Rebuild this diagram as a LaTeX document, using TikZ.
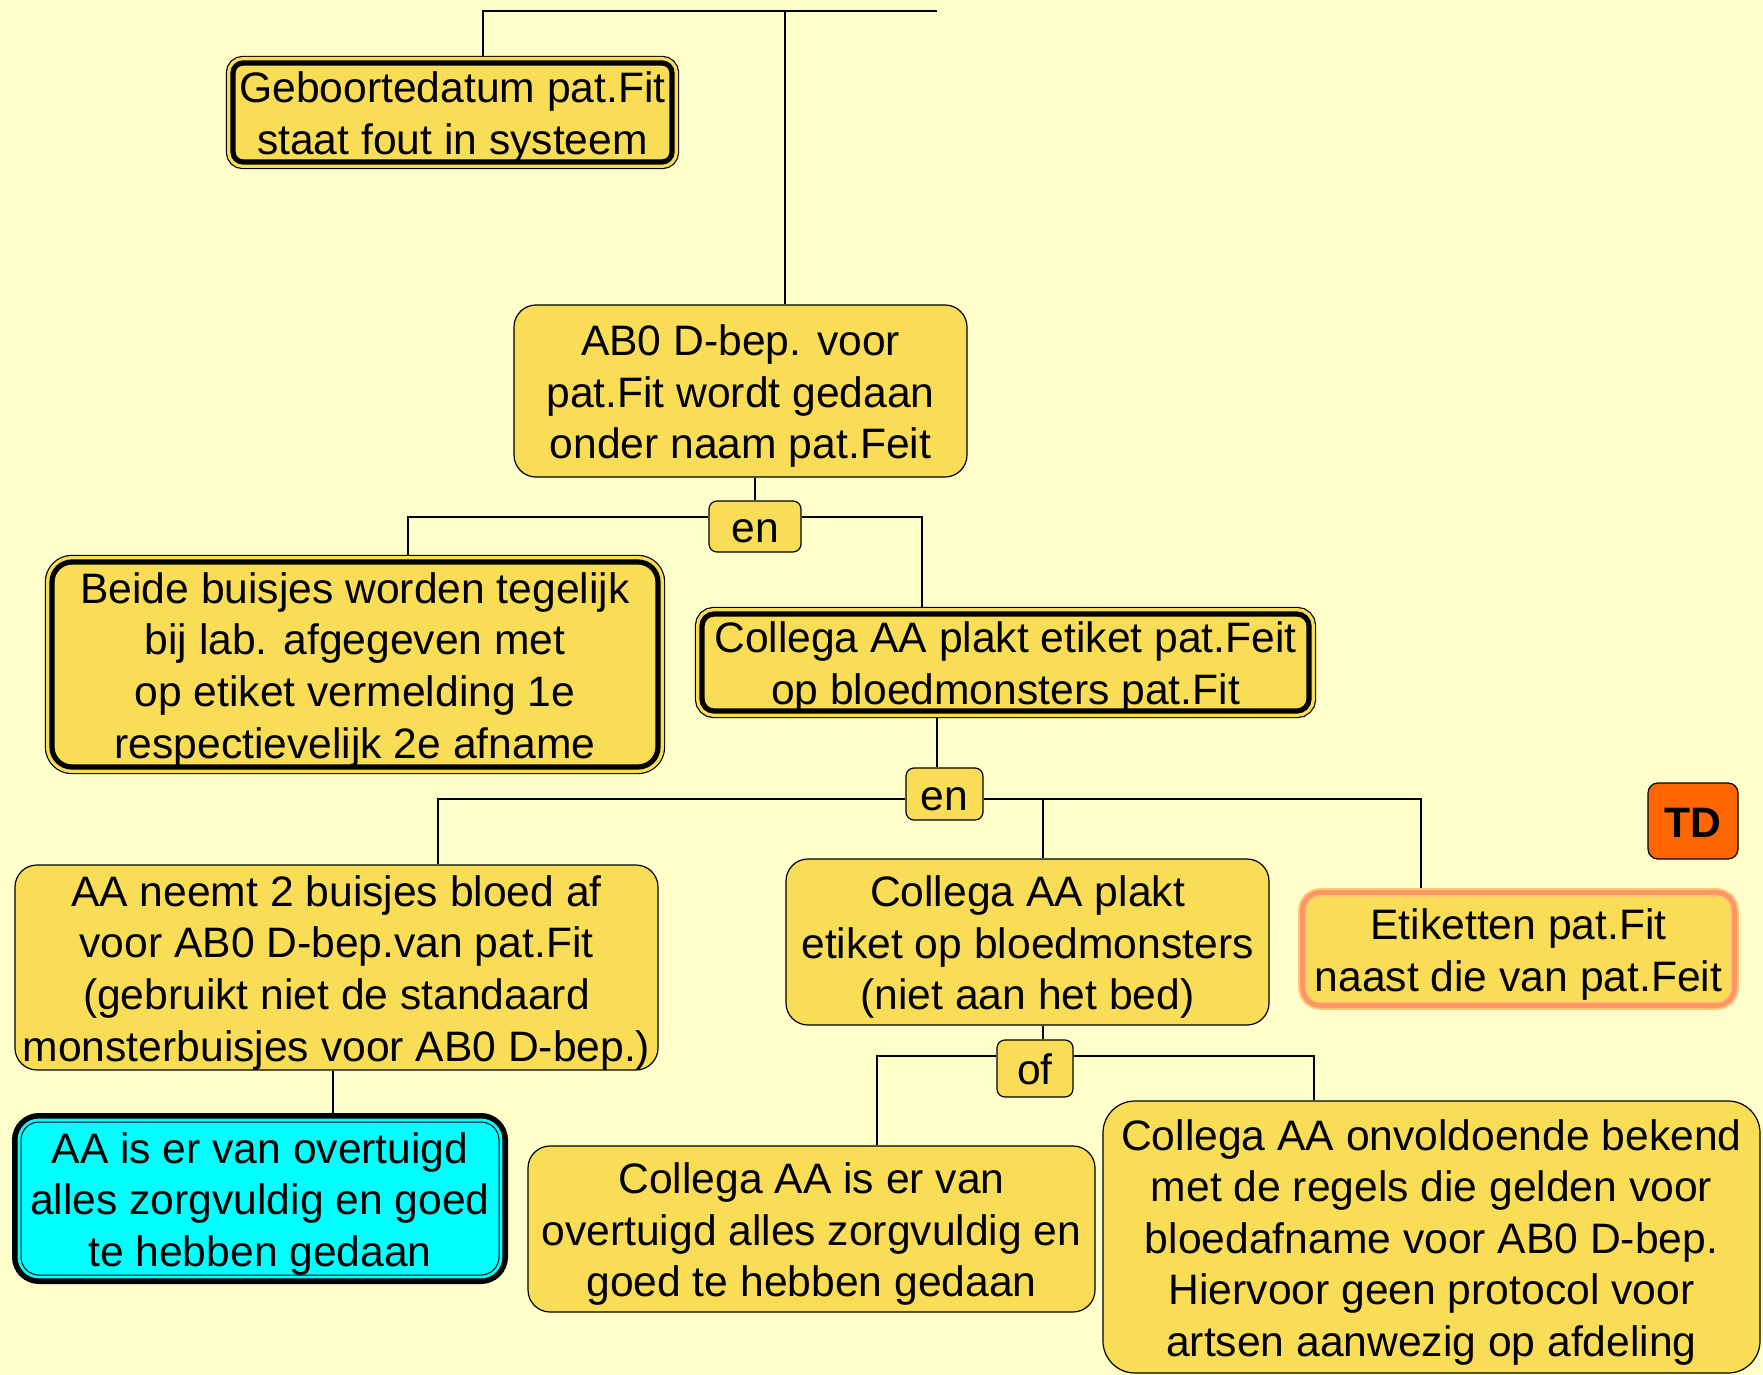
\documentclass[tikz,border=0pt]{standalone}
\usepackage{fontspec}
\setmainfont{Liberation Sans}
\usetikzlibrary{positioning}

\definecolor{bgyellow}{RGB}{255,255,204}
\definecolor{boxyellow}{RGB}{249,221,86}
\definecolor{aqua}{RGB}{0,255,255}
\definecolor{tdorange}{RGB}{255,102,0}
\definecolor{salmon}{RGB}{255,150,100}
\definecolor{peach}{RGB}{255,200,120}

\tikzset{
  box/.style={draw, fill=boxyellow, rounded corners=11pt, align=center, inner sep=1pt,
    line width=0.6pt, text height=18.1pt, text depth=1.9pt, font=\fontsize{21.3}{25.8}\selectfont},
  twolines/.style={text height=43.9pt},
  threelines/.style={text height=69.7pt},
  fourlines/.style={text height=95.5pt},
  fivelines/.style={text height=121.3pt},
  andbox/.style={box, rounded corners=4pt},
  heavybox/.style={box, rounded corners=5pt, line width=2.6pt, outer sep=3.6pt,
    preaction={draw=black, line width=7.2pt}, preaction={draw=boxyellow, line width=6pt}},
  cyanbox/.style={box, fill=aqua, rounded corners=9pt, line width=0.5pt, outer sep=4.5pt,
    preaction={draw=black, line width=9pt}, preaction={draw=aqua, line width=3.4pt}},
  warnbox/.style={box, draw=peach, rounded corners=7pt, line width=0.8pt, outer sep=3.9pt,
    preaction={draw=peach, line width=7.8pt}, preaction={draw=salmon, line width=5.8pt}},
  tdbox/.style={box, fill=tdorange, rounded corners=5pt, font=\fontsize{21.3}{25.8}\selectfont\bfseries},
  wire/.style={line width=0.6pt}
}

\begin{document}
\begin{tikzpicture}[x=0.5pt, y=-0.5pt]
  \fill[bgyellow] (0,0) rectangle (1763,1375);
  \useasboundingbox (0,0) rectangle (1763,1375);

  \node[heavybox, twolines, minimum width=219.5pt, minimum height=49.5pt] (geb) at (452.5,112.5) {Geboortedatum pat.Fit\\staat fout in systeem};
  \node[box, threelines, minimum width=226.5pt, minimum height=86pt] (ab0) at (740.5,391) {AB0 D-bep. voor\\pat.Fit wordt gedaan\\onder naam pat.Feit};
  \node[andbox, minimum width=46pt, minimum height=25.5pt] (en1) at (755,526.5) {en};
  \node[heavybox, fourlines, rounded corners=10pt, minimum width=303pt, minimum height=102.5pt] (beide) at (355,664.5) {Beide buisjes worden tegelijk\\bij lab. afgegeven met\\op etiket vermelding 1e\\respectievelijk 2e afname};
  \node[heavybox, twolines, rounded corners=6pt, minimum width=303.5pt, minimum height=48.5pt] (pfeit) at (1005.5,662.5) {Collega AA plakt etiket pat.Feit\\op bloedmonsters pat.Fit};
  \node[andbox, minimum width=38.5pt, minimum height=26pt] (en2) at (944.5,794) {en};
  \node[box, fourlines, minimum width=321.5pt, minimum height=102.5pt] (neemt) at (336.5,967.5) {AA neemt 2 buisjes bloed af\\voor AB0 D-bep.van pat.Fit\\(gebruikt niet de standaard\\monsterbuisjes voor AB0 D-bep.)};
  \node[box, threelines, minimum width=241.5pt, minimum height=83pt] (plakt) at (1027.5,942) {Collega AA plakt\\etiket op bloedmonsters\\(niet aan het bed)};
  \node[warnbox, twolines, minimum width=212.5pt, minimum height=53pt] (etik) at (1518.5,949) {Etiketten pat.Fit\\naast die van pat.Feit};
  \node[tdbox, minimum width=45pt, minimum height=38pt] (td) at (1693,821) {TD};
  \node[cyanbox, threelines, minimum width=239pt, minimum height=76.5pt] (overtuigd) at (260,1198.5) {AA is er van overtuigd\\alles zorgvuldig en goed\\te hebben gedaan};
  \node[andbox, minimum width=38pt, minimum height=28.5pt] (of) at (1035,1068.5) {of};
  \node[box, threelines, minimum width=283.5pt, minimum height=83pt] (collega) at (811.5,1229) {Collega AA is er van\\overtuigd alles zorgvuldig en\\goed te hebben gedaan};
  \node[box, fivelines, rounded corners=16pt, minimum width=328.5pt, minimum height=136pt] (onbekend) at (1431.5,1237) {Collega AA onvoldoende bekend\\met de regels die gelden voor\\bloedafname voor AB0 D-bep.\\Hiervoor geen protocol voor\\artsen aanwezig op afdeling};

  % top of the tree
  \coordinate (t0) at (483,11);
  \coordinate (t1) at (785,11);
  \coordinate (t2) at (937,11);
  \draw[wire] (geb.north -| t0) -- (t0) -- (t2);
  \draw[wire] (t1) -- (t1 |- ab0.north);

  % first "en"
  \coordinate (u0) at (408,517);
  \coordinate (u1) at (922,517);
  \draw[wire] (ab0.south -| en1) -- (en1.north);
  \draw[wire] (beide.north -| u0) -- (u0) -- (u0 -| en1.west);
  \draw[wire] (u1 -| en1.east) -- (u1) -- (u1 |- pfeit.north);

  % second "en"
  \coordinate (v0) at (438,799);
  \coordinate (v1) at (1043,799);
  \coordinate (v2) at (1421,799);
  \coordinate (v3) at (937,799);
  \draw[wire] (pfeit.south -| v3) -- (v3 |- en2.north);
  \draw[wire] (neemt.north -| v0) -- (v0) -- (v0 -| en2.west);
  \draw[wire] (v2 -| en2.east) -- (v2) -- (v2 |- etik.north);
  \draw[wire] (v1) -- (v1 |- plakt.north);
  \coordinate (s0) at (333,1090);
  \draw[wire] (neemt.south -| s0) -- (s0 |- overtuigd.north);

  % "of"
  \coordinate (w0) at (877,1056);
  \coordinate (w1) at (1043,1056);
  \coordinate (w2) at (1314,1056);
  \draw[wire] (plakt.south -| w1) -- (w1 |- of.north);
  \draw[wire] (collega.north -| w0) -- (w0) -- (w0 -| of.west);
  \draw[wire] (w2 -| of.east) -- (w2) -- (w2 |- onbekend.north);
\end{tikzpicture}
\end{document}
